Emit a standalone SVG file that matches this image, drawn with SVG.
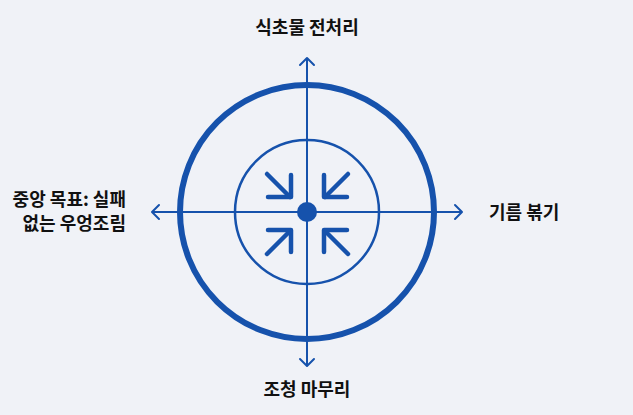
<svg xmlns="http://www.w3.org/2000/svg" width="633" height="415" viewBox="0 0 633 415">
<style>
.ax{stroke:#1652AC;stroke-width:2;fill:none}
.ah{stroke:#1652AC;stroke-width:2;fill:none;stroke-linecap:round;stroke-linejoin:round}
.ia{stroke:#1652AC;stroke-width:4.5;fill:none;stroke-linecap:round;stroke-linejoin:round}
.lb{font-family:"Noto Sans CJK KR","Noto Sans",sans-serif;font-weight:bold;font-size:18px;fill:#111}
</style>
<rect width="633" height="415" fill="#F0F2F7"/>
<g id="connectors">
<line class="ax" x1="307" y1="58" x2="307" y2="366"/>
<line class="ax" x1="152" y1="212" x2="462" y2="212"/>
<polyline class="ah" points="300,65 307,58 314,65"/>
<polyline class="ah" points="300,359 307,366 314,359"/>
<polyline class="ah" points="159,205 152,212 159,219"/>
<polyline class="ah" points="455,205 462,212 455,219"/>
</g>
<g id="outer-ring"><circle cx="307" cy="212" r="127" fill="none" stroke="#1652AC" stroke-width="6"/></g>
<g id="inner-ring"><circle cx="307" cy="212" r="72" fill="none" stroke="#1652AC" stroke-width="2.5"/></g>
<g id="center"><circle cx="307" cy="212" r="10" fill="#1652AC"/></g>
<g id="converge-arrows">
<line class="ia" x1="267" y1="174" x2="290" y2="197"/>
<polyline class="ia" points="291,175 291,197 268,197"/>
<line class="ia" x1="348" y1="174" x2="325" y2="197"/>
<polyline class="ia" points="324,175 324,197 347,197"/>
<line class="ia" x1="267" y1="254" x2="290" y2="231"/>
<polyline class="ia" points="268,230 291,230 291,252"/>
<line class="ia" x1="348" y1="254" x2="325" y2="231"/>
<polyline class="ia" points="347,230 324,230 324,252"/>
</g>
<g id="label-top"><text class="lb" x="307" y="34" text-anchor="middle">식초물 전처리</text></g>
<g id="label-right"><text class="lb" x="489" y="219">기름 볶기</text></g>
<g id="label-bottom"><text class="lb" x="307" y="396" text-anchor="middle">조청 마무리</text></g>
<g id="label-left"><text class="lb" text-anchor="end"><tspan x="126" y="206">중앙 목표: 실패</tspan><tspan x="126" y="230">없는 우엉조림</tspan></text></g>
</svg>
